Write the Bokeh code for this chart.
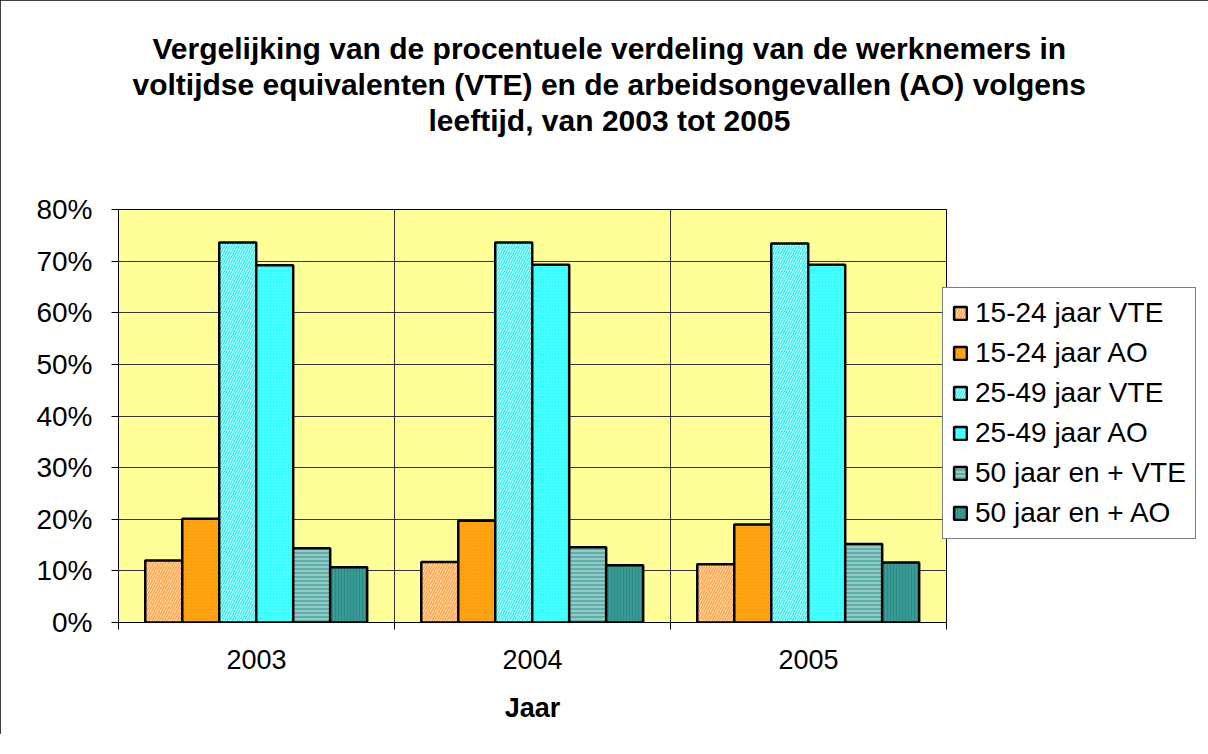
from bokeh.plotting import figure
from bokeh.models import (FixedTicker, PrintfTickFormatter, Title, Legend, LegendItem,
                          ColumnDataSource, Range1d)
from bokeh.embed import file_html
from bokeh.resources import INLINE

years = ["2003", "2004", "2005"]
series = ["15-24 jaar VTE", "15-24 jaar AO", "25-49 jaar VTE",
          "25-49 jaar AO", "50 jaar en + VTE", "50 jaar en + AO"]
v_1524_vte = [12.0, 11.7, 11.3]
v_1524_ao = [20.1, 19.7, 19.0]
v_2549_vte = [73.6, 73.6, 73.4]
v_2549_ao = [69.2, 69.3, 69.3]
v_50_vte = [14.4, 14.6, 15.2]
v_50_ao = [10.7, 11.1, 11.6]
values = [v_1524_vte, v_1524_ao, v_2549_vte, v_2549_ao, v_50_vte, v_50_ao]

styles = [
    dict(fill_color="#FFE2BC", hatch_pattern="right_diagonal_line", hatch_color="#FFA54A", hatch_scale=5, hatch_weight=1.5),
    dict(fill_color="#FF9E0C", hatch_pattern="dot", hatch_color="#FFB020", hatch_scale=3, hatch_weight=1),
    dict(fill_color="#E8FFFF", hatch_pattern="right_diagonal_line", hatch_color="#33F0F0", hatch_scale=5, hatch_weight=1.5),
    dict(fill_color="#33FFFF", hatch_pattern="dot", hatch_color="#7FFFFF", hatch_scale=3, hatch_weight=1),
    dict(fill_color="#5FAFA8", hatch_pattern="horizontal_line", hatch_color="#B8DCD8", hatch_scale=4, hatch_weight=1.2),
    dict(fill_color="#3A9A94", hatch_pattern="vertical_line", hatch_color="#2E8A85", hatch_scale=3, hatch_weight=1),
]

FONT = "Liberation Sans"

p = figure(frame_width=828, frame_height=413, output_backend="svg", toolbar_location=None,
           x_range=Range1d(0, 3), y_range=Range1d(0, 80),
           min_border_left=118, min_border_top=10, min_border_bottom=112,
           min_border_right=0)
p.title = None
p.styles = {"outline": "1px solid black", "outline-offset": "-1px"}
p.background_fill_color = "#FFFF99"
p.outline_line_color = "#000000"
p.outline_line_width = 1

bw = 0.134
start = 0.097
items = []
for i, (name, vals, st) in enumerate(zip(series, values, styles)):
    xs = [k + start + bw / 2 + i * bw for k in range(3)]
    src = ColumnDataSource(dict(x=xs, top=vals))
    r = p.vbar(x="x", top="top", width=bw, bottom=0, source=src,
               line_color="black", line_width=2.5, **st)
    items.append(LegendItem(label=name, renderers=[r]))

legend = Legend(items=items, location=(-4, 83), label_text_font=FONT,
                label_text_font_size="28px", label_text_color="black",
                glyph_width=16, glyph_height=16,
                spacing=8, padding=9, margin=0, border_line_color="black",
                border_line_width=1, background_fill_color="white",
                background_fill_alpha=1, label_standoff=7)
p.add_layout(legend, "right")

# axes
p.yaxis.ticker = FixedTicker(ticks=list(range(0, 81, 10)))
p.yaxis.formatter = PrintfTickFormatter(format="%d%%")
p.yaxis.major_label_text_font = FONT
p.yaxis.major_label_text_font_size = "28px"
p.yaxis.major_label_text_color = "black"
p.yaxis.major_tick_out = 7
p.yaxis.major_tick_in = 0
p.yaxis.minor_tick_out = 0
p.yaxis.minor_tick_in = 0
p.yaxis.axis_line_color = "black"
p.yaxis.major_tick_line_color = "black"
p.yaxis.major_label_standoff = 19

p.xaxis.ticker = FixedTicker(ticks=[0.5, 1.5, 2.5], minor_ticks=[0, 1, 2, 3])
p.xaxis.major_label_overrides = {0.5: years[0], 1.5: years[1], 2.5: years[2]}
p.xaxis.major_tick_out = 0
p.xaxis.major_tick_in = 0
p.xaxis.minor_tick_out = 7
p.xaxis.minor_tick_in = 0
p.xaxis.minor_tick_line_color = "black"
p.xaxis.axis_line_color = "black"
p.xaxis.major_label_text_font = FONT
p.xaxis.major_label_text_font_size = "27px"
p.xaxis.major_label_text_color = "black"
p.xaxis.major_label_standoff = 20
p.xaxis.axis_label = "Jaar"
p.xaxis.axis_label_text_font = FONT
p.xaxis.axis_label_text_font_size = "27px"
p.xaxis.axis_label_text_font_style = "bold"
p.xaxis.axis_label_text_color = "black"
p.xaxis.axis_label_standoff = 21

p.ygrid.grid_line_color = "#333333"
p.ygrid.grid_line_width = 1
p.xgrid.ticker = FixedTicker(ticks=[1, 2])
p.xgrid.grid_line_color = "#333333"

title_lines = ["Vergelijking van de procentuele verdeling van de werknemers in",
               "voltijdse equivalenten (VTE) en de arbeidsongevallen (AO) volgens",
               "leeftijd, van 2003 tot 2005"]
title_offsets = [34, 14, 310]
# blank spacer between the title block and the plot area
p.add_layout(Title(text=" ", text_font=FONT, text_font_size="28px", standoff=39), "above")
for line, off in reversed(list(zip(title_lines, title_offsets))):
    t = Title(text=line, align="left", offset=off, standoff=1, text_font=FONT,
              text_font_size="30px", text_font_style="bold", text_color="black")
    p.add_layout(t, "above")
# blank spacer above the title block
p.add_layout(Title(text=" ", text_font=FONT, text_font_size="24px", standoff=0), "above")

open("out.html", "w").write(file_html(p, INLINE))
